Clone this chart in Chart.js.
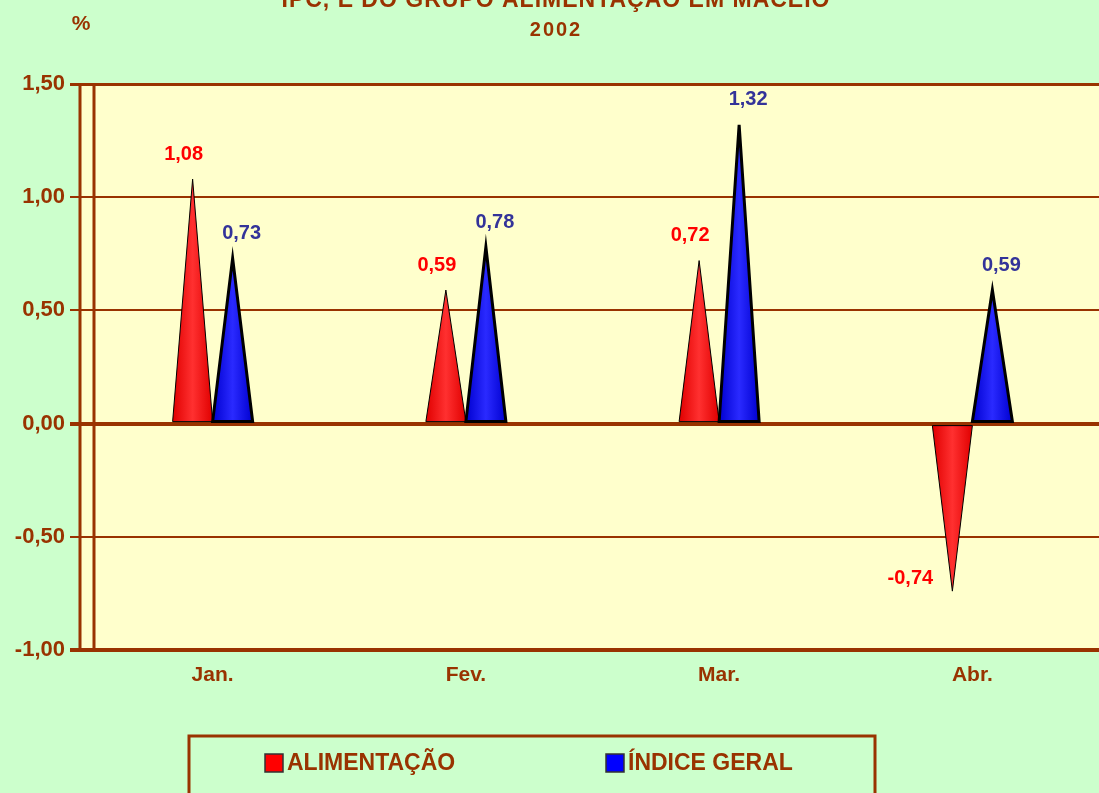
<!DOCTYPE html>
<html>
<head>
<meta charset="utf-8">
<script src="https://cdn.jsdelivr.net/npm/chart.js@4.4.0/dist/chart.umd.min.js"></script>
<style>
  html, body { margin: 0; padding: 0; background: #CCFFCC; }
  #wrap { width: 1099px; height: 793px; }
</style>
</head>
<body>
<div id="wrap"><canvas id="c" width="1099" height="793"></canvas></div>
<script>
const categories = ['Jan.', 'Fev.', 'Mar.', 'Abr.'];
const alimentacao = [1.08, 0.59, 0.72, -0.74];
const indiceGeral = [0.73, 0.78, 1.32, 0.59];
const seriesNames = ['ALIMENTAÇÃO', 'ÍNDICE GERAL'];
const titleLines = ['IPC, E DO GRUPO ALIMENTAÇÃO EM MACEIÓ', '2002'];
const yUnit = '%';

const BROWN = '#993300';
const FONT = "'Liberation Sans', Arial, sans-serif";
const fmt = v => v.toFixed(2).replace('.', ',');

const seriesStyle = [
  { fill: '#FF0000', edge: '#E00000', mid: '#FF3030', stroke: '#000000', strokeW: 1, label: '#FF0000', dx: -9 },
  { fill: '#0000FF', edge: '#0000D0', mid: '#2A2AFF', stroke: '#000000', strokeW: 3, label: '#333399', dx: 9 }
];

const decor = {
  id: 'decor',
  beforeDraw(chart) {
    const ctx = chart.ctx, a = chart.chartArea;
    ctx.save();
    ctx.fillStyle = '#CCFFCC';
    ctx.fillRect(0, 0, chart.width, chart.height);
    ctx.fillStyle = '#FFFFCC';
    ctx.fillRect(80, a.top, a.right - 80, a.bottom - a.top);
    ctx.restore();
  },
  beforeDatasetsDraw(chart) {
    const ctx = chart.ctx, a = chart.chartArea;
    ctx.save();
    ctx.strokeStyle = BROWN;
    ctx.lineWidth = 3;
    ctx.beginPath();
    ctx.moveTo(80, a.top + 2); ctx.lineTo(80, a.bottom + 2);
    ctx.moveTo(94, a.top); ctx.lineTo(94, a.bottom);
    ctx.stroke();
    ctx.restore();
  },
  beforeDatasetDraw() { return false; },
  afterDatasetsDraw(chart) {
    const ctx = chart.ctx;
    chart.data.datasets.forEach((ds, i) => {
      const st = seriesStyle[i];
      const meta = chart.getDatasetMeta(i);
      meta.data.forEach(bar => {
        const p = bar.getProps(['x', 'y', 'base', 'width'], true);
        const l = p.x - p.width / 2, r = p.x + p.width / 2;
        const g = ctx.createLinearGradient(l, 0, r, 0);
        g.addColorStop(0, st.edge);
        g.addColorStop(0.5, st.mid);
        g.addColorStop(1, st.edge);
        ctx.save();
        ctx.beginPath();
        ctx.moveTo(l, p.base);
        ctx.lineTo(p.x, p.y);
        ctx.lineTo(r, p.base);
        ctx.closePath();
        ctx.fillStyle = g;
        ctx.fill();
        ctx.lineJoin = 'miter';
        ctx.strokeStyle = st.stroke;
        ctx.lineWidth = st.strokeW;
        ctx.stroke();
        ctx.restore();
      });
    });
    chart.data.datasets.forEach((ds, i) => {
      const st = seriesStyle[i];
      const meta = chart.getDatasetMeta(i);
      meta.data.forEach((bar, j) => {
        const v = ds.data[j];
        const p = bar.getProps(['x', 'y'], true);
        ctx.save();
        ctx.font = 'bold 20px ' + FONT;
        ctx.fillStyle = st.label;
        ctx.textAlign = 'center';
        ctx.textBaseline = 'middle';
        if (v >= 0) ctx.fillText(fmt(v), p.x + st.dx, p.y - 25);
        else ctx.fillText(fmt(v), p.x - 42, p.y - 13);
        ctx.restore();
      });
    });
  },
  afterDraw(chart) {
    const ctx = chart.ctx;
    ctx.save();
    ctx.fillStyle = BROWN;
    ctx.textAlign = 'center';
    ctx.textBaseline = 'alphabetic';
    ctx.font = 'bold 23px ' + FONT;
    ctx.letterSpacing = '1px';
    ctx.fillText(titleLines[0], 556, 7);
    ctx.font = 'bold 20px ' + FONT;
    ctx.letterSpacing = '2px';
    ctx.fillText(titleLines[1], 556, 36);
    ctx.letterSpacing = '0px';
    ctx.font = 'bold 21px ' + FONT;
    ctx.fillText(yUnit, 81, 30);
    // legend
    ctx.strokeStyle = BROWN;
    ctx.lineWidth = 3;
    ctx.strokeRect(189, 736, 686, 80);
    const items = [{ x: 265, tx: 287 }, { x: 606, tx: 628 }];
    ctx.font = 'bold 23px ' + FONT;
    ctx.textAlign = 'left';
    ctx.textBaseline = 'middle';
    chart.data.datasets.forEach((ds, i) => {
      const it = items[i];
      ctx.fillStyle = seriesStyle[i].fill;
      ctx.fillRect(it.x, 754, 18, 18);
      ctx.lineWidth = 1.5;
      ctx.strokeStyle = '#333333';
      ctx.strokeRect(it.x, 754, 18, 18);
      ctx.fillStyle = BROWN;
      ctx.fillText(ds.label, it.tx, 764);
    });
    ctx.restore();
  }
};

new Chart(document.getElementById('c'), {
  type: 'bar',
  data: {
    labels: categories,
    datasets: [
      { label: seriesNames[0], data: alimentacao, backgroundColor: seriesStyle[0].fill },
      { label: seriesNames[1], data: indiceGeral, backgroundColor: seriesStyle[1].fill }
    ]
  },
  options: {
    responsive: false,
    animation: false,
    devicePixelRatio: 1,
    layout: { padding: { top: 84, right: 0, left: 0, bottom: 0 } },
    datasets: { bar: { categoryPercentage: 0.316, barPercentage: 1.0 } },
    plugins: { legend: { display: false }, tooltip: { enabled: false }, title: { display: false } },
    scales: {
      x: {
        offset: true,
        grid: { display: false },
        border: { display: false },
        ticks: { color: BROWN, font: { family: FONT, size: 21, weight: 'bold' }, padding: 5 },
        afterFit(s) { s.height = 143; }
      },
      y: {
        min: -1, max: 1.5,
        ticks: { stepSize: 0.5, color: BROWN, font: { family: FONT, size: 22, weight: 'bold' }, padding: 5,
                 callback: v => fmt(v) },
        grid: {
          color: BROWN,
          lineWidth: c => (c.tick && (c.tick.value === 0 || c.tick.value === -1)) ? 4 : (c.tick && c.tick.value === 1.5 ? 3 : 2),
          tickLength: 16,
          drawOnChartArea: true
        },
        border: { display: false },
        afterFit(s) { s.width = 86; }
      }
    }
  },
  plugins: [decor]
});
</script>
</body>
</html>
